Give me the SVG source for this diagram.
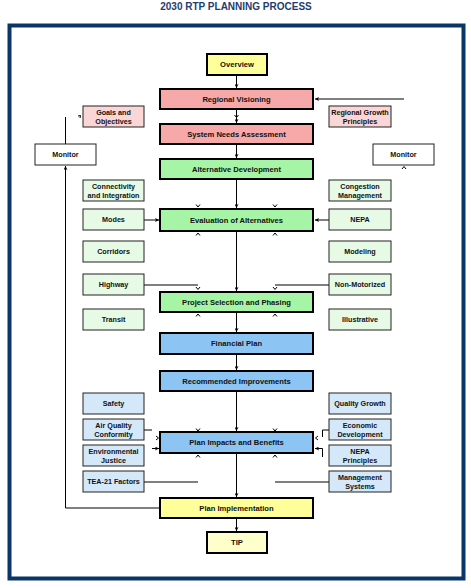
<svg xmlns="http://www.w3.org/2000/svg" width="471" height="588" viewBox="0 0 471 588">
<defs>
<style>
text{font-family:"Liberation Sans",Arial,sans-serif;font-weight:bold;fill:#111;text-anchor:middle}
.title{font-size:10px;fill:#1f3d70}
.mt{font-size:7.6px}
.st{font-size:7.2px}
.main{stroke:#000;stroke-width:2}
.side{stroke:#222;stroke-width:1}
.pk{fill:#f7a8a8}.lpk{fill:#fbd6d6}
.gr{fill:#a6f5a6}.lgr{fill:#e6fae6}
.bl{fill:#8cc4f4}.lbl{fill:#d4e8fa}
.yl{fill:#ffff99}.lyl{fill:#ffffcc}
.wh{fill:#fff}
.c{fill:none;stroke:#000;stroke-width:1}
.tk{fill:none;stroke:#000;stroke-width:1}
</style>
<marker id="ah" viewBox="0 0 6 6" refX="6" refY="3" markerWidth="4" markerHeight="4" orient="auto" markerUnits="userSpaceOnUse">
<path d="M0,0 L6,3 L0,6 L1.5,3 z" fill="#000"/>
</marker>
</defs>
<rect x="0" y="0" width="471" height="588" fill="#fff"/>
<text class="title" x="236" y="9.5">2030 RTP PLANNING PROCESS</text>
<rect x="9.5" y="25.5" width="454" height="553" fill="#fff" stroke="#0a3566" stroke-width="4"/>

<g id="connectors">
<path class="c" d="M236.5,76 V88" marker-end="url(#ah)"/>
<path class="c" d="M236.5,110 V123" marker-end="url(#ah)"/>
<path class="tk" d="M234.5,115 L236.5,117.5 L238.5,115"/>
<path class="c" d="M236.5,145 V158" marker-end="url(#ah)"/>
<path class="c" d="M236.5,180 V208" marker-end="url(#ah)"/>
<path class="c" d="M236.5,232 V291" marker-end="url(#ah)"/>
<path class="c" d="M236.5,313 V332" marker-end="url(#ah)"/>
<path class="c" d="M236.5,355 V370" marker-end="url(#ah)"/>
<path class="c" d="M236.5,392 V431" marker-end="url(#ah)"/>
<path class="c" d="M236.5,454 V497" marker-end="url(#ah)"/>
<path class="c" d="M236.5,519 V531" marker-end="url(#ah)"/>
<path class="c" d="M404,99 H315" marker-end="url(#ah)"/>
<path class="c" d="M65.5,117 V144"/>
<path class="tk" d="M78,116 L80.5,115.5 L80,118"/>
<path class="c" d="M159,508 H65.5 V166" marker-end="url(#ah)"/>
<path class="tk" d="M402,169 L404,166.5 L406,169"/>
<path class="c" d="M144,220 H159" marker-end="url(#ah)"/>
<path class="c" d="M329,220 H315" marker-end="url(#ah)"/>
<path class="tk" d="M196,204.5 L198,207 L200,204.5"/>
<path class="tk" d="M273,204.5 L275,207 L277,204.5"/>
<path class="tk" d="M196,235.5 L198,233 L200,235.5"/>
<path class="tk" d="M273,235.5 L275,233 L277,235.5"/>
<path class="c" d="M144,285 H198"/>
<path class="tk" d="M196,287 L198,289.5 L200,287"/>
<path class="c" d="M329,285 H275"/>
<path class="tk" d="M273,287 L275,289.5 L277,287"/>
<path class="tk" d="M196,316.5 L198,314 L200,316.5"/>
<path class="tk" d="M273,316.5 L275,314 L277,316.5"/>
<path class="tk" d="M196,428.5 L198,431 L200,428.5"/>
<path class="tk" d="M273,428.5 L275,431 L277,428.5"/>
<path class="tk" d="M196,457.5 L198,455 L200,457.5"/>
<path class="tk" d="M273,457.5 L275,455 L277,457.5"/>
<path class="c" d="M144,430 H152"/>
<path class="tk" d="M156,436 L158.5,438 L156,440"/>
<path class="c" d="M152,448.5 H159" marker-end="url(#ah)"/>
<path class="c" d="M329,430 H322.5 V437"/>
<path class="tk" d="M318,436 L315.5,438 L318,440"/>
<path class="c" d="M322.5,457 V448.5 H315" marker-end="url(#ah)"/>
<path class="c" d="M144,482 H198"/>
<path class="c" d="M329,482 H275"/>
</g>

<g id="overview"><rect class="main yl" x="207" y="54" width="60" height="21"/><text class="mt" x="237" y="67.3">Overview</text></g>
<g id="regional-visioning"><rect class="main pk" x="160" y="89" width="153" height="20"/><text class="mt" x="236.5" y="101.7">Regional Visioning</text></g>
<g id="system-needs"><rect class="main pk" x="160" y="124" width="153" height="20"/><text class="mt" x="236.5" y="136.7">System Needs Assessment</text></g>
<g id="alternative-development"><rect class="main gr" x="160" y="159" width="153" height="20"/><text class="mt" x="236.5" y="171.7">Alternative Development</text></g>
<g id="evaluation"><rect class="main gr" x="160" y="209" width="153" height="22"/><text class="mt" x="236.5" y="222.7">Evaluation of Alternatives</text></g>
<g id="project-selection"><rect class="main gr" x="160" y="292" width="153" height="20"/><text class="mt" x="236.5" y="304.7">Project Selection and Phasing</text></g>
<g id="financial-plan"><rect class="main bl" x="160" y="333" width="153" height="21"/><text class="mt" x="236.5" y="346.2">Financial Plan</text></g>
<g id="recommended"><rect class="main bl" x="160" y="371" width="153" height="20"/><text class="mt" x="236.5" y="383.7">Recommended Improvements</text></g>
<g id="plan-impacts"><rect class="main bl" x="160" y="432" width="153" height="21"/><text class="mt" x="236.5" y="445.2">Plan Impacts and Benefits</text></g>
<g id="plan-implementation"><rect class="main yl" x="160" y="498" width="153" height="20"/><text class="mt" x="236.5" y="510.7">Plan Implementation</text></g>
<g id="tip"><rect class="main lyl" x="207" y="532" width="60" height="21"/><text class="mt" x="237" y="545.2">TIP</text></g>

<g id="goals"><rect class="side lpk" x="83" y="106" width="61" height="21"/><text class="st" x="113.5" y="115">Goals and</text><text class="st" x="113.5" y="124">Objectives</text></g>
<g id="growth"><rect class="side lpk" x="329" y="106" width="62" height="21"/><text class="st" x="360" y="115">Regional Growth</text><text class="st" x="360" y="124">Principles</text></g>
<g id="monitor-left"><rect class="side wh" x="35" y="144" width="61" height="21"/><text class="st" x="65.5" y="157.2">Monitor</text></g>
<g id="monitor-right"><rect class="side wh" x="373" y="144" width="61" height="21"/><text class="st" x="403.5" y="157.2">Monitor</text></g>
<g id="connectivity"><rect class="side lgr" x="83" y="180" width="61" height="21"/><text class="st" x="113.5" y="189">Connectivity</text><text class="st" x="113.5" y="198">and Integration</text></g>
<g id="congestion"><rect class="side lgr" x="329" y="180" width="62" height="21"/><text class="st" x="360" y="189">Congestion</text><text class="st" x="360" y="198">Management</text></g>
<g id="modes"><rect class="side lgr" x="83" y="209" width="61" height="21"/><text class="st" x="113.5" y="222.2">Modes</text></g>
<g id="nepa"><rect class="side lgr" x="329" y="209" width="62" height="21"/><text class="st" x="360" y="222.2">NEPA</text></g>
<g id="corridors"><rect class="side lgr" x="83" y="241" width="61" height="21"/><text class="st" x="113.5" y="254.2">Corridors</text></g>
<g id="modeling"><rect class="side lgr" x="329" y="241" width="62" height="21"/><text class="st" x="360" y="254.2">Modeling</text></g>
<g id="highway"><rect class="side lgr" x="83" y="274" width="61" height="21"/><text class="st" x="113.5" y="287.2">Highway</text></g>
<g id="non-motorized"><rect class="side lgr" x="329" y="274" width="62" height="21"/><text class="st" x="360" y="287.2">Non-Motorized</text></g>
<g id="transit"><rect class="side lgr" x="83" y="309" width="61" height="21"/><text class="st" x="113.5" y="322.2">Transit</text></g>
<g id="illustrative"><rect class="side lgr" x="329" y="309" width="62" height="21"/><text class="st" x="360" y="322.2">Illustrative</text></g>
<g id="safety"><rect class="side lbl" x="83" y="393" width="61" height="21"/><text class="st" x="113.5" y="406.2">Safety</text></g>
<g id="quality-growth"><rect class="side lbl" x="329" y="393" width="62" height="21"/><text class="st" x="360" y="406.2">Quality Growth</text></g>
<g id="air-quality"><rect class="side lbl" x="83" y="419" width="61" height="21"/><text class="st" x="113.5" y="428">Air Quality</text><text class="st" x="113.5" y="437">Conformity</text></g>
<g id="economic"><rect class="side lbl" x="329" y="419" width="62" height="21"/><text class="st" x="360" y="428">Economic</text><text class="st" x="360" y="437">Development</text></g>
<g id="env-justice"><rect class="side lbl" x="83" y="445" width="61" height="21"/><text class="st" x="113.5" y="454">Environmental</text><text class="st" x="113.5" y="463">Justice</text></g>
<g id="nepa-principles"><rect class="side lbl" x="329" y="445" width="62" height="21"/><text class="st" x="360" y="454">NEPA</text><text class="st" x="360" y="463">Principles</text></g>
<g id="tea21"><rect class="side lbl" x="83" y="471" width="61" height="21"/><text class="st" x="113.5" y="484.2">TEA-21 Factors</text></g>
<g id="management-systems"><rect class="side lbl" x="329" y="471" width="62" height="21"/><text class="st" x="360" y="480">Management</text><text class="st" x="360" y="489">Systems</text></g>
</svg>
